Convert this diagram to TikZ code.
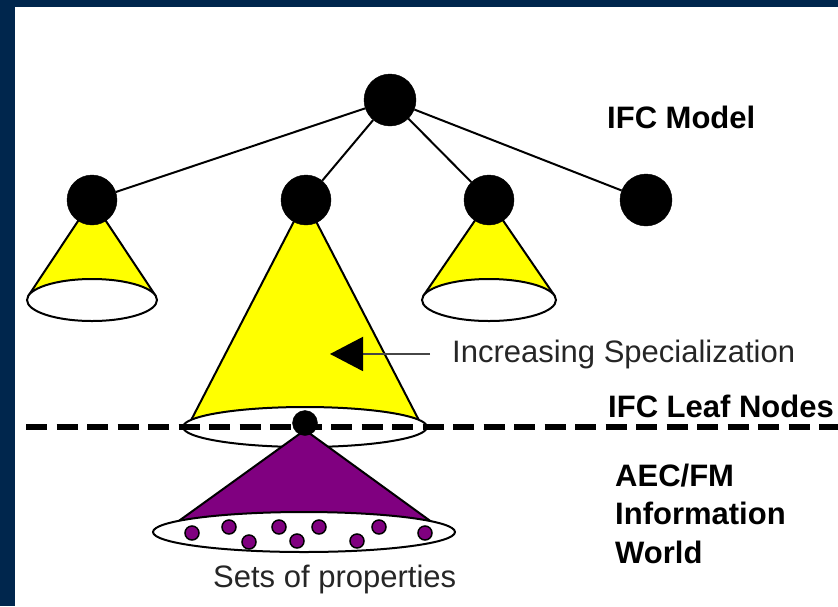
\documentclass[tikz,border=0pt]{standalone}
\usepackage{fontspec}
\setmainfont{Liberation Sans}
\usetikzlibrary{arrows.meta}
\definecolor{framenavy}{RGB}{0,38,77}
\definecolor{coneyellow}{RGB}{255,255,0}
\definecolor{propurple}{RGB}{128,0,128}
\definecolor{leadgray}{RGB}{70,70,70}
\begin{document}
\begin{tikzpicture}[x=1pt,y=-1pt,
  treenode/.style={circle,fill=black,draw=black,inner sep=0pt,minimum size=#1},
  treeedge/.style={draw=black,line width=2pt},
  cone/.style={fill=coneyellow,draw=black,line width=2pt,line join=round},
  purplecone/.style={fill=propurple,draw=black,line width=2pt,line join=round},
  conebase/.style={fill=white,draw=black,line width=2pt},
  propdot/.style={fill=propurple,draw=black,line width=1.5pt},
  boldlabel/.style={inner sep=0pt,font=\fontsize{31}{38.5}\selectfont\bfseries},
  plainlabel/.style={inner sep=0pt,font=\fontsize{31}{37}\selectfont,text=black!85},
  leafline/.style={draw=black,line width=6pt,dash pattern=on 21pt off 9.5pt}]

% frame and canvas
\fill[framenavy] (0,0) rectangle (838,606);
\fill[white] (15,7) rectangle (838,606);
\useasboundingbox (0,0) rectangle (838,606);

% cones below the second-level nodes
\filldraw[cone] (92,200) -- (28.5,295.6) -- (155.5,295.6) -- cycle;
\filldraw[conebase] (92,300) ellipse [x radius=65pt, y radius=21pt];
\filldraw[cone] (489,200) -- (423.5,295.6) -- (554.5,295.6) -- cycle;
\filldraw[conebase] (489,300) ellipse [x radius=67pt, y radius=21pt];
\filldraw[cone] (305,200) -- (188.5,425.2) -- (421.5,425.2) -- cycle;
\filldraw[conebase] (305,427) ellipse [x radius=122pt, y radius=20pt];

% boundary of the IFC leaf nodes
\coordinate (leafstart) at (26,427);
\coordinate (leafend) at (838,427);
\draw[leafline] (leafstart) -- (leafend);

% AEC/FM information world cone
\filldraw[purplecone] (305,430) -- (169,528) -- (440,528) -- cycle;
\filldraw[conebase] (304,532) ellipse [x radius=151pt, y radius=20pt];
\foreach \px/\py in {192/533,229/527,249/542,279/527,297/541,319/527,357/541,379/527,425/533}
  \filldraw[propdot] (\px,\py) circle [radius=7pt];

% tree
\node[treenode=52pt] (root) at (390,100) {};
\node[treenode=50pt] (a) at (92,200) {};
\node[treenode=50pt] (b) at (306,200) {};
\node[treenode=50pt] (c) at (489,200) {};
\node[treenode=52pt] (d) at (646,200) {};
\node[treenode=25pt] (leaf) at (305,423) {};
\foreach \child in {a,b,c,d}
  \draw[treeedge] (root) -- (\child);

% labels
\node[boldlabel,anchor=base west] (model) at (607,128) {IFC Model};
\node[boldlabel,anchor=base west] (leafnodes) at (608,417) {IFC Leaf Nodes};
\node[boldlabel,anchor=base west,align=left] (world) at (615,563) {AEC/FM\\Information\\World};
\node[plainlabel,anchor=base west] (spec) at (452,362) {Increasing Specialization};
\node[plainlabel,anchor=base west] (props) at (213,587) {Sets of properties};

% pointer into the large cone
\coordinate (spectip) at ([xshift=-122pt]spec.west);
\draw[leadgray,line width=2pt,shorten <=22pt,
  -{Triangle[length=33pt,width=34pt,color=black]}] (spec.west) -- (spectip);
\end{tikzpicture}
\end{document}
